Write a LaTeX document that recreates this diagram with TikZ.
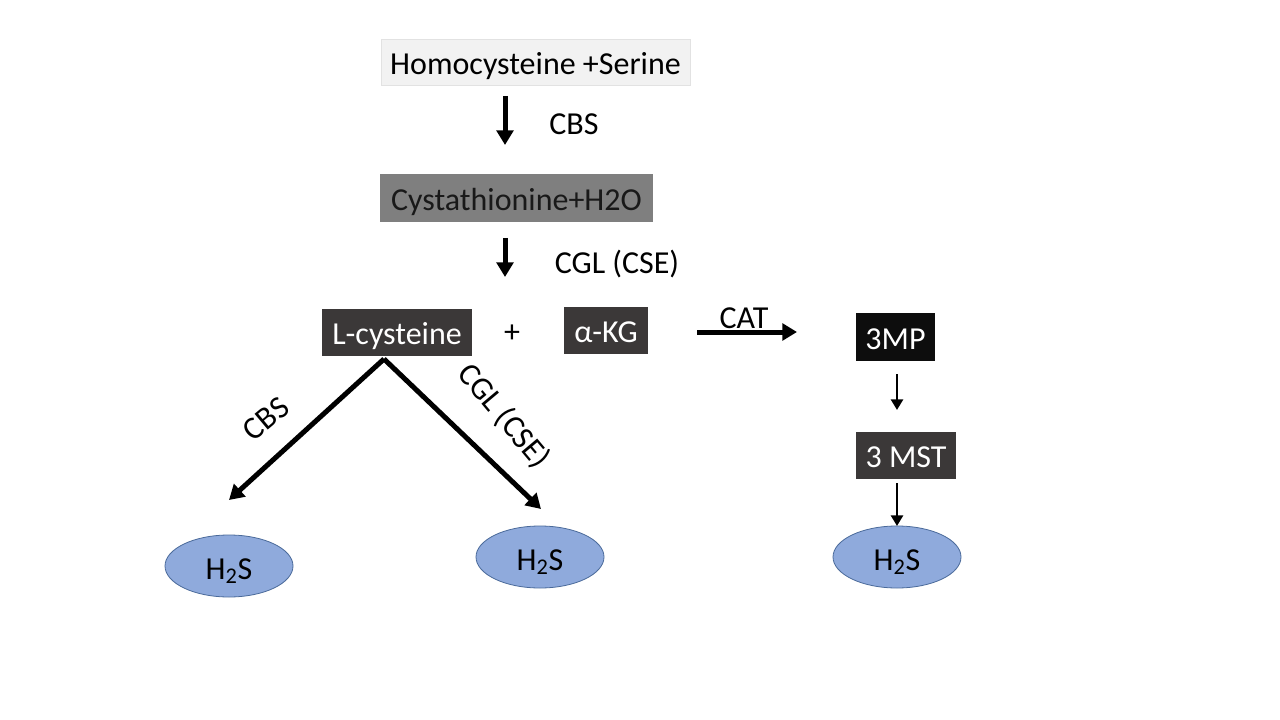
\documentclass[tikz,border=0pt]{standalone}
\usepackage{fontspec}
\setmainfont{Carlito}
\usetikzlibrary{arrows.meta,shapes.geometric}
\definecolor{lightbox}{HTML}{F2F2F2}
\definecolor{lightedge}{HTML}{E2E2E2}
\definecolor{midbox}{HTML}{7F7F7F}
\definecolor{darkbox}{HTML}{3B3838}
\definecolor{blackbox}{HTML}{0D0D0D}
\definecolor{hsfill}{HTML}{8FAADC}
\definecolor{hsedge}{HTML}{4A6A9A}
\tikzset{
  txt/.style={font=\fontsize{24}{28}\selectfont, inner sep=0pt},
  boxnode/.style={txt, minimum height=35pt, align=center, text height=18.5pt, text depth=0pt},
  darknode/.style={boxnode, fill=darkbox, text=white},
  hsnode/.style={txt, ellipse, draw=hsedge, line width=0.6pt, fill=hsfill,
                 minimum width=96pt, minimum height=46.5pt, text height=19.5pt, text depth=0pt},
  bigarrow/.style={line width=3.75pt, -{Triangle[length=11pt,width=12.5pt]}},
  smallarrow/.style={line width=2.2pt, -{Triangle[length=8pt,width=9pt]}},
}
\begin{document}
\begin{tikzpicture}[x=0.75pt,y=-0.75pt]
\useasboundingbox (0,0) rectangle (1280,720);
\fill[white] (0,0) rectangle (1280,720);

% nodes
\node[boxnode, fill=lightbox, draw=lightedge, line width=0.5pt, minimum width=232pt, minimum height=34pt] (hs) at (535.5,62.5) {Homocysteine +Serine};
\node[boxnode, fill=midbox, text=black!90, minimum width=205pt, minimum height=36pt] (cys) at (516.5,198) {Cystathionine+H2O};
\node[darknode, minimum width=112.5pt] (lc) at (397,332.5) {L-cysteine};
\node[txt] (plus) at (512,334) {+};
\node[darknode, minimum width=63pt] (akg) at (606,330.5) {α-KG};
\node[boxnode, fill=blackbox, text=white, minimum width=59pt, minimum height=36pt] (mp) at (895.5,337) {3MP};
\node[darknode, minimum width=75pt] (mst) at (906,455.5) {3 MST};
\node[hsnode] (h1) at (229,566) {H\textsubscript{2}S};
\node[hsnode] (h2) at (540,557) {H\textsubscript{2}S};
\node[hsnode] (h3) at (897,557) {H\textsubscript{2}S};

% arrow end points
\coordinate (a1s) at (505,96);
\coordinate (a1e) at (505,145);
\coordinate (a2s) at (505,238);
\coordinate (a2e) at (505,277);
\coordinate (cats) at (697,332);
\coordinate (cate) at (797,332);
\coordinate (lcs) at (384,359);
\coordinate (l1e) at (229,500);
\coordinate (l2e) at (541,509);
\coordinate (m1s) at (897,374);
\coordinate (m1e) at (897,410);
\coordinate (m2s) at (897,483);
\coordinate (m2e) at (897,526);

% connectors
\draw[bigarrow] (a1s) -- (a1e);
\draw[bigarrow] (a2s) -- (a2e);
\draw[bigarrow] (cats) -- (cate);
\draw[bigarrow] (lcs) -- (l1e);
\draw[bigarrow] (lcs) -- (l2e);
\draw[smallarrow] (m1s) -- (m1e);
\draw[smallarrow] (m2s) -- (m2e);

% labels
\node[txt] (lcbs) at (574,124) {CBS};
\node[txt] (lcgl) at (617,264) {CGL (CSE)};
\node[txt] (lcat) at (744,318) {CAT};
\node[txt, rotate=40] (lcbs2) at (266,419) {CBS};
\node[txt, rotate=-50] (lcgl2) at (504,416) {CGL (CSE)};
\end{tikzpicture}
\end{document}
